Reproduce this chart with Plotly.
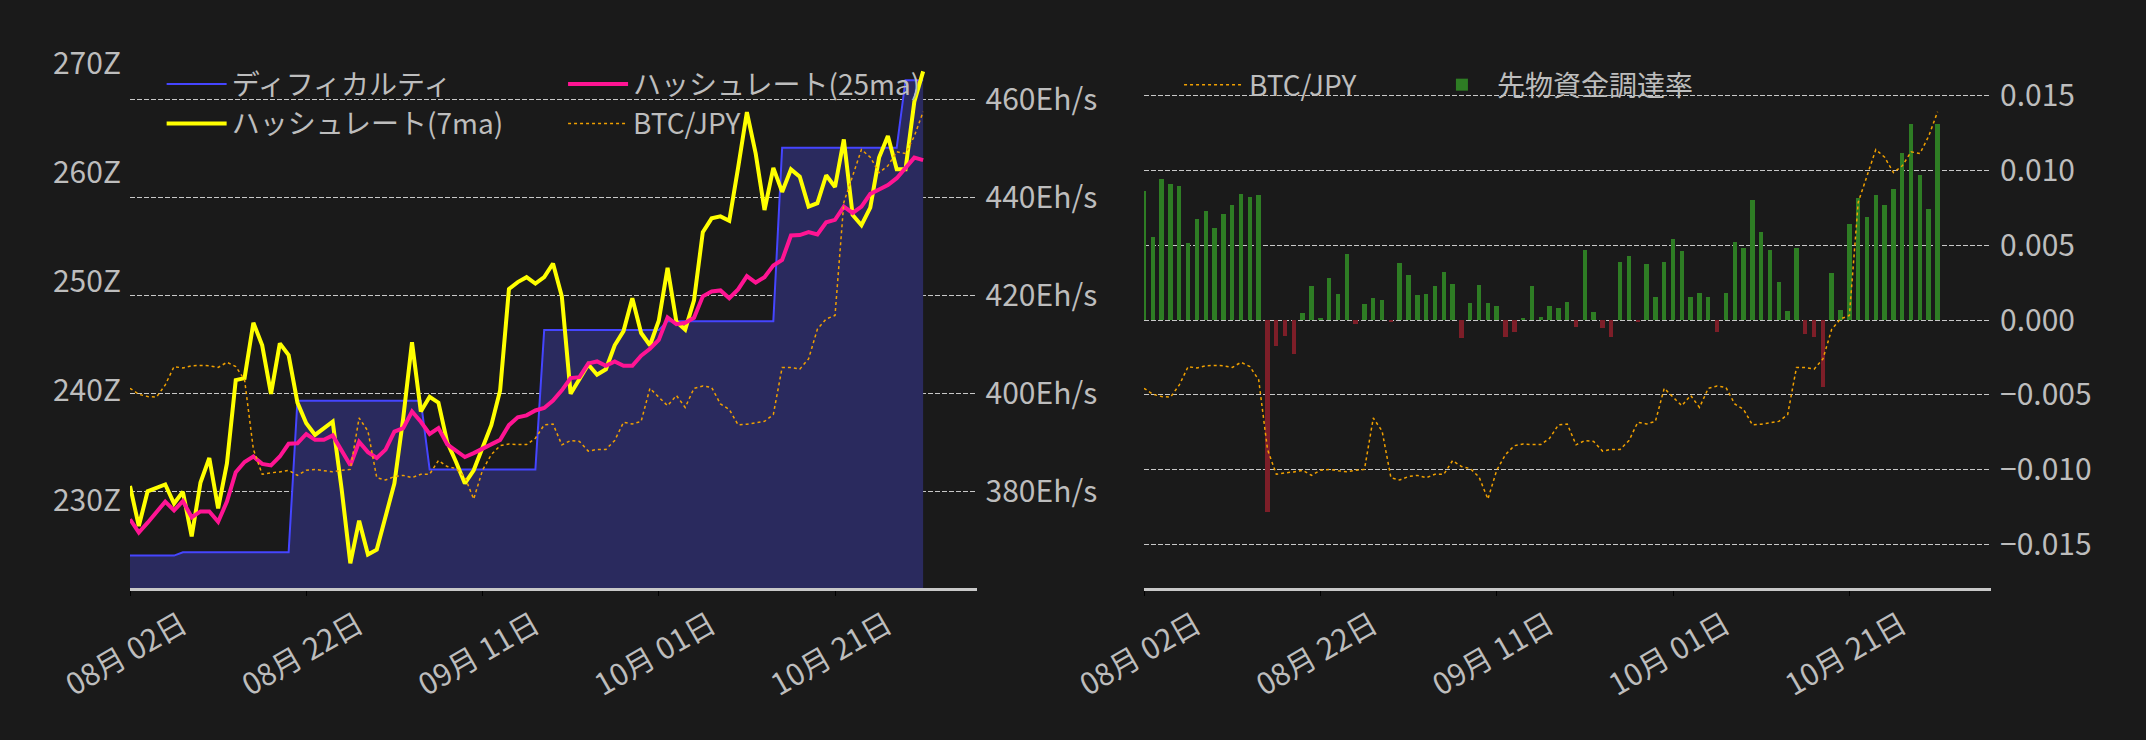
import pandas as pd
import plotly.graph_objects as go

# daily values, 2023-08-02 .. 2023-10-31
dates = pd.date_range("2023-08-02", "2023-10-31", freq="D")

# difficulty (Z)
difficulty_z = [
    224.9, 224.9, 224.9, 224.9, 224.9, 224.9,
    225.2, 225.2, 225.2, 225.2, 225.2, 225.2, 225.2, 225.2, 225.2, 225.2, 225.2, 225.2, 225.2,
    239.1, 239.1, 239.1, 239.1, 239.1, 239.1, 239.1, 239.1, 239.1, 239.1, 239.1, 239.1, 239.1, 239.1, 239.1,
    232.8, 232.8, 232.8, 232.8, 232.8, 232.8, 232.8, 232.8, 232.8, 232.8, 232.8, 232.8, 232.8,
    245.6, 245.6, 245.6, 245.6, 245.6, 245.6, 245.6, 245.6, 245.6, 245.6, 245.6, 245.6, 245.6, 245.6,
    246.4, 246.4, 246.4, 246.4, 246.4, 246.4, 246.4, 246.4, 246.4, 246.4, 246.4, 246.4, 246.4,
    262.3, 262.3, 262.3, 262.3, 262.3, 262.3, 262.3, 262.3, 262.3, 262.3, 262.3, 262.3, 262.3, 262.3,
    268.5, 268.5, 268.5,
]

# hash rate (Eh/s)
hashrate_7ma = [
    381.1, 372.9, 380.0, 380.7, 381.4, 377.5, 379.9, 370.8, 381.8, 386.8,
    376.5, 385.7, 402.7, 403.1, 414.4, 409.8, 399.9, 410.2, 407.8, 398.1,
    393.9, 391.5, 392.9, 394.2, 380.7, 365.3, 374.0, 367.1, 368.1, 374.7,
    381.6, 394.9, 410.4, 396.3, 399.3, 398.1, 390.0, 386.0, 381.6, 384.3,
    388.9, 393.5, 400.6, 421.3, 422.7, 423.7, 422.4, 423.7, 426.5, 419.8,
    399.9, 403.1, 405.9, 403.8, 404.9, 409.8, 412.7, 419.4, 412.3, 409.8,
    414.8, 425.6, 414.6, 413.0, 419.0, 432.9, 435.7, 436.1, 435.2, 446.0,
    457.4, 448.9, 437.4, 446.0, 441.1, 445.7, 444.2, 438.1, 438.8, 444.5,
    442.1, 451.8, 436.4, 434.3, 437.9, 448.1, 452.5, 445.7, 445.7, 459.5,
    465.7,
]
hashrate_25ma = [
    374.3, 371.6, 373.6, 375.8, 377.9, 376.1, 378.0, 374.7, 375.9, 375.9,
    373.8, 377.9, 383.9, 386.0, 387.1, 385.6, 385.3, 387.1, 389.7, 389.8,
    391.7, 390.5, 390.5, 391.4, 388.5, 385.3, 390.1, 388.0, 386.8, 388.5,
    392.2, 392.9, 396.3, 394.2, 391.7, 392.9, 389.6, 388.2, 387.0, 387.8,
    388.7, 389.8, 390.5, 393.5, 395.1, 395.5, 396.5, 397.0, 398.5, 400.6,
    403.1, 403.3, 406.1, 406.5, 405.6, 406.5, 405.6, 405.6, 407.7, 409.1,
    410.9, 415.5, 414.1, 414.4, 415.4, 419.8, 420.8, 421.0, 419.4, 421.2,
    423.9, 422.6, 423.7, 426.1, 427.2, 432.2, 432.3, 432.9, 432.4, 434.9,
    435.4, 438.1, 436.8, 438.1, 440.7, 441.6, 442.5, 443.9, 446.0, 448.1,
    447.6,
]

# BTC/JPY close
btc_jpy = [
    4256000, 4235000, 4227000, 4225000, 4268000, 4332000, 4327000, 4335000, 4336000, 4335000,
    4329000, 4347000, 4332000, 4286000, 4042000, 3955000, 3960000, 3963000, 3969000, 3951000,
    3969000, 3972000, 3967000, 3964000, 3969000, 3972000, 4152000, 4106000, 3943000, 3935000,
    3947000, 3951000, 3943000, 3955000, 3955000, 4003000, 3982000, 3975000, 3945000, 3868000,
    3969000, 4024000, 4055000, 4061000, 4059000, 4059000, 4081000, 4128000, 4131000, 4058000,
    4073000, 4070000, 4036000, 4042000, 4042000, 4073000, 4137000, 4131000, 4140000, 4256000,
    4225000, 4195000, 4231000, 4189000, 4256000, 4264000, 4259000, 4201000, 4182000, 4128000,
    4130000, 4136000, 4140000, 4164000, 4329000, 4329000, 4323000, 4359000, 4463000, 4499000,
    4511000, 4907000, 4998000, 5092000, 5065000, 5011000, 5035000, 5084000, 5078000, 5139000,
    5224000,
]

# futures funding rate
funding_rate = [
    0.00864, 0.00557, 0.00945, 0.00910, 0.00899, 0.00518, 0.00678, 0.00732, 0.00618, 0.00711,
    0.00771, 0.00845, 0.00824, 0.00838, -0.01287, -0.00172, -0.00105, -0.00225, 0.00049, 0.00230,
    0.00016, 0.00283, 0.00176, 0.00444, -0.00030, 0.00109, 0.00149, 0.00137, -0.00016, 0.00383,
    0.00304, 0.00170, 0.00176, 0.00230, 0.00323, 0.00244, -0.00123, 0.00116, 0.00237, 0.00116,
    0.00091, -0.00111, -0.00077, 0.00016, 0.00230, 0.00023, 0.00095, 0.00077, 0.00123, -0.00044,
    0.00471, 0.00056, -0.00051, -0.00111, 0.00390, 0.00430, -0.00009, 0.00376, 0.00156, 0.00390,
    0.00543, 0.00464, 0.00156, 0.00183, 0.00156, -0.00077, 0.00183, 0.00525, 0.00483, 0.00804,
    0.00590, 0.00471, 0.00251, 0.00063, 0.00483, -0.00091, -0.00111, -0.00446, 0.00316, 0.00070,
    0.00639, 0.00817, 0.00692, 0.00838, 0.00771, 0.00878, 0.01119, 0.01312, 0.00971, 0.00739,
    0.01312,
]

BG = "#1a1a1a"
TEXT = "#bdbdbd"
GRID = "#c8c8c8"
FONT = "Noto Sans CJK JP"
BTC_COLOR = "#f0a000"

bar_colors = ["#2e7d24" if v >= 0 else "#7d1e28" for v in funding_rate]

fig = go.Figure()

# left: difficulty / hash rate / price
# fill under the difficulty step (kept out of the legend so the key stays a line)
fig.add_trace(go.Scatter(
    x=dates, y=difficulty_z, mode="lines", line=dict(width=0, color="#2a2a5e"),
    fill="tozeroy", fillcolor="#2a2a5e", showlegend=False, hoverinfo="skip",
    xaxis="x", yaxis="y",
))
fig.add_trace(go.Scatter(
    x=dates, y=difficulty_z, name="ディフィカルティ", mode="lines",
    line=dict(color="#4545ff", width=2), xaxis="x", yaxis="y", legend="legend",
))
fig.add_trace(go.Scatter(
    x=dates, y=hashrate_7ma, name="ハッシュレート(7ma)", mode="lines",
    line=dict(color="#ffff00", width=4), xaxis="x", yaxis="y2", legend="legend",
))
fig.add_trace(go.Scatter(
    x=dates, y=hashrate_25ma, name="ハッシュレート(25ma)", mode="lines",
    line=dict(color="#ff1493", width=4), xaxis="x", yaxis="y2", legend="legend2",
))
fig.add_trace(go.Scatter(
    x=dates, y=btc_jpy, name="BTC/JPY", mode="lines",
    line=dict(color=BTC_COLOR, width=1.5, dash="dot"), xaxis="x", yaxis="y3", legend="legend2",
))

# right: funding rate / price
fig.add_trace(go.Bar(
    x=dates, y=funding_rate, name="先物資金調達率",
    marker=dict(color=bar_colors, line_width=0), width=0.5 * 86400000,
    xaxis="x2", yaxis="y4", legend="legend4",
))
fig.add_trace(go.Scatter(
    x=dates, y=btc_jpy, name="BTC/JPY", mode="lines",
    line=dict(color=BTC_COLOR, width=1.5, dash="dot"), xaxis="x2", yaxis="y5", legend="legend3",
))

tick_font = dict(family=FONT, size=30, color=TEXT)
x_common = dict(
    type="date", range=["2023-08-02", "2023-11-06 01:30"],
    tick0="2023-08-02", dtick=20 * 86400000, tickformat="%m月 %d日",
    tickangle=-30, ticklabelshift=52, tickfont=tick_font,
    showgrid=False, zeroline=False, showline=True, linecolor="#c8c8c8", linewidth=2.5,
    ticks="outside", ticklen=5, tickcolor="black",
)
grid = dict(showgrid=True, gridcolor=GRID, gridwidth=1, griddash="5px,2px")
price_range = [3556700, 5440500]

legend_common = dict(
    font=dict(family=FONT, size=28, color=TEXT), bgcolor="rgba(0,0,0,0)",
    itemwidth=60, xanchor="left", yanchor="middle", orientation="v", tracegroupgap=0,
)

fig.update_layout(
    width=2146, height=740,
    margin=dict(l=130, r=155, t=50, b=152),
    paper_bgcolor=BG, plot_bgcolor=BG,
    font=dict(family=FONT, color=TEXT),
    xaxis=dict(domain=[0, 0.4549], anchor="y", **x_common),
    xaxis2=dict(domain=[0.5449, 1], anchor="y4", **x_common),
    yaxis=dict(
        range=[221.93, 271.265], dtick=10, ticksuffix="Z", anchor="x",
        showgrid=False, zeroline=False, tickfont=tick_font, ticklabelstandoff=8,
    ),
    yaxis2=dict(
        overlaying="y", side="right", anchor="x", range=[360.27, 470.06], dtick=20,
        ticksuffix="Eh/s", zeroline=False, tickfont=tick_font, ticklabelstandoff=8, **grid,
    ),
    yaxis3=dict(overlaying="y", anchor="x", range=price_range, visible=False),
    yaxis4=dict(
        anchor="x2", side="right", range=[-0.017922, 0.018056], dtick=0.005,
        tickformat=".3f", zeroline=False, tickfont=tick_font, ticklabelstandoff=8, **grid,
    ),
    yaxis5=dict(overlaying="y4", anchor="x2", range=price_range, visible=False),
    legend=dict(x=0.017, y=0.9, **legend_common),
    legend2=dict(x=0.2327, y=0.9, **legend_common),
    legend3=dict(x=0.5637, y=0.935, **legend_common),
    legend4=dict(x=0.6969, y=0.935, **legend_common),
    bargap=0,
)

fig.write_html(
    "out.html",
    config={"displayModeBar": False},
    post_script="document.body.style.margin='0';document.body.style.background='#1a1a1a';",
)
